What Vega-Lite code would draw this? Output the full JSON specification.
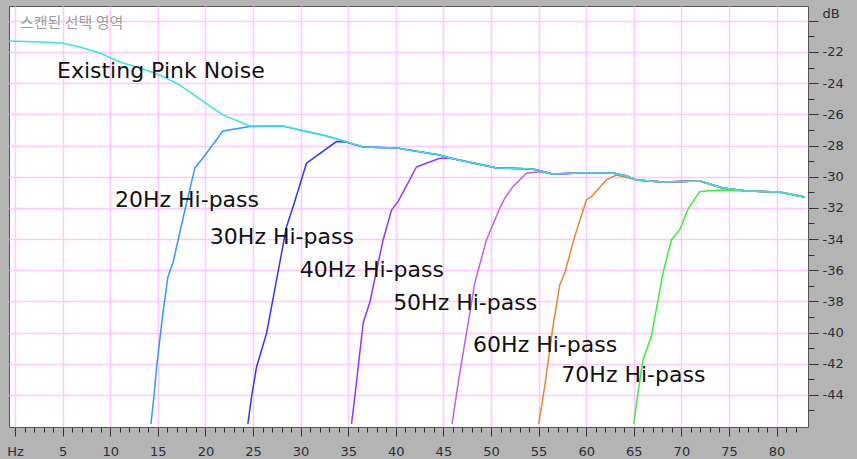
{
  "$schema": "https://vega.github.io/schema/vega-lite/v6.json",
  "width": 799,
  "height": 421,
  "autosize": {"type": "none"},
  "padding": {"left": 9, "top": 6, "right": 49, "bottom": 32},
  "background": "#b4b4b4",
  "config": {
    "view": {"fill": "white", "stroke": "#555555", "strokeWidth": 1},
    "axis": {"labelFont": "DejaVu Sans", "labelFontSize": 13, "labelColor": "#2b2f3a", "tickColor": "#333333", "domain": false, "title": null}
  },
  "title": {"text": "스캔된 선택 영역", "anchor": "start", "frame": "group", "orient": "top", "offset": -20, "dx": 11, "dy": 20, "baseline": "bottom", "font": "Noto Sans CJK KR", "fontSize": 15, "fontWeight": "normal", "color": "#a0a0a0"},
  "datasets": {
    "curves": [
      {"s": "20Hz", "f": 14.28, "db": -45.86}, {"s": "20Hz", "f": 14.59, "db": -44.13}, {"s": "20Hz", "f": 14.88, "db": -42.19}, {"s": "20Hz", "f": 15.54, "db": -38.74}, {"s": "20Hz", "f": 16.06, "db": -36.43}, {"s": "20Hz", "f": 16.59, "db": -35.53}, {"s": "20Hz", "f": 17.85, "db": -32.14}, {"s": "20Hz", "f": 18.9, "db": -29.44}, {"s": "20Hz", "f": 19.74, "db": -28.8}, {"s": "20Hz", "f": 21.84, "db": -27.07}, {"s": "20Hz", "f": 24.67, "db": -26.78},
      {"s": "20Hz", "f": 28.14, "db": -26.75}, {"s": "20Hz", "f": 29.92, "db": -27.01}, {"s": "20Hz", "f": 32.34, "db": -27.33}, {"s": "20Hz", "f": 34.86, "db": -27.77}, {"s": "20Hz", "f": 36.54, "db": -28.1}, {"s": "20Hz", "f": 40.1, "db": -28.16}, {"s": "20Hz", "f": 44.62, "db": -28.61}, {"s": "20Hz", "f": 45.67, "db": -28.8}, {"s": "20Hz", "f": 50.6, "db": -29.44}, {"s": "20Hz", "f": 54.38, "db": -29.51}, {"s": "20Hz", "f": 56.48, "db": -29.83}, {"s": "20Hz", "f": 59.32, "db": -29.76}, {"s": "20Hz", "f": 62.78, "db": -29.76}, {"s": "20Hz", "f": 64.25, "db": -29.96}, {"s": "20Hz", "f": 65.3, "db": -30.22}, {"s": "20Hz", "f": 68.03, "db": -30.34}, {"s": "20Hz", "f": 71.92, "db": -30.28}, {"s": "20Hz", "f": 74.33, "db": -30.73}, {"s": "20Hz", "f": 76.85, "db": -30.92}, {"s": "20Hz", "f": 80.31, "db": -30.99}, {"s": "20Hz", "f": 82.94, "db": -31.31},

      {"s": "30Hz", "f": 24.46, "db": -45.86}, {"s": "30Hz", "f": 24.85, "db": -44.11}, {"s": "30Hz", "f": 25.38, "db": -42.19}, {"s": "30Hz", "f": 26.43, "db": -40.04}, {"s": "30Hz", "f": 27.47, "db": -36.63}, {"s": "30Hz", "f": 28.52, "db": -33.21}, {"s": "30Hz", "f": 29.22, "db": -31.92}, {"s": "30Hz", "f": 30.62, "db": -29.14}, {"s": "30Hz", "f": 31.32, "db": -28.82}, {"s": "30Hz", "f": 33.77, "db": -27.75}, {"s": "30Hz", "f": 34.86, "db": -27.79},
      {"s": "30Hz", "f": 36.54, "db": -28.1}, {"s": "30Hz", "f": 40.1, "db": -28.16}, {"s": "30Hz", "f": 44.62, "db": -28.61}, {"s": "30Hz", "f": 45.67, "db": -28.8}, {"s": "30Hz", "f": 50.6, "db": -29.44}, {"s": "30Hz", "f": 54.38, "db": -29.51}, {"s": "30Hz", "f": 56.48, "db": -29.83}, {"s": "30Hz", "f": 59.32, "db": -29.76}, {"s": "30Hz", "f": 62.78, "db": -29.76}, {"s": "30Hz", "f": 64.25, "db": -29.96}, {"s": "30Hz", "f": 65.3, "db": -30.22}, {"s": "30Hz", "f": 68.03, "db": -30.34}, {"s": "30Hz", "f": 71.92, "db": -30.28}, {"s": "30Hz", "f": 74.33, "db": -30.73}, {"s": "30Hz", "f": 76.85, "db": -30.92}, {"s": "30Hz", "f": 80.31, "db": -30.99}, {"s": "30Hz", "f": 82.94, "db": -31.31},

      {"s": "40Hz", "f": 35.35, "db": -45.86}, {"s": "40Hz", "f": 35.7, "db": -44.11}, {"s": "40Hz", "f": 36.57, "db": -39.4}, {"s": "40Hz", "f": 37.28, "db": -38.04}, {"s": "40Hz", "f": 38.67, "db": -34.06}, {"s": "40Hz", "f": 39.55, "db": -32.14}, {"s": "40Hz", "f": 40.24, "db": -31.6}, {"s": "40Hz", "f": 42.17, "db": -29.38}, {"s": "40Hz", "f": 42.7, "db": -29.25}, {"s": "40Hz", "f": 44.62, "db": -28.82}, {"s": "40Hz", "f": 45.67, "db": -28.8},
      {"s": "40Hz", "f": 50.6, "db": -29.44}, {"s": "40Hz", "f": 54.38, "db": -29.51}, {"s": "40Hz", "f": 56.48, "db": -29.83}, {"s": "40Hz", "f": 59.32, "db": -29.76}, {"s": "40Hz", "f": 62.78, "db": -29.76}, {"s": "40Hz", "f": 64.25, "db": -29.96}, {"s": "40Hz", "f": 65.3, "db": -30.22}, {"s": "40Hz", "f": 68.03, "db": -30.34}, {"s": "40Hz", "f": 71.92, "db": -30.28}, {"s": "40Hz", "f": 74.33, "db": -30.73}, {"s": "40Hz", "f": 76.85, "db": -30.92}, {"s": "40Hz", "f": 80.31, "db": -30.99}, {"s": "40Hz", "f": 82.94, "db": -31.31},

      {"s": "50Hz", "f": 45.91, "db": -45.86}, {"s": "50Hz", "f": 46.72, "db": -42.61}, {"s": "50Hz", "f": 48.29, "db": -36.84}, {"s": "50Hz", "f": 49.52, "db": -34.06}, {"s": "50Hz", "f": 50.92, "db": -32.03}, {"s": "50Hz", "f": 51.44, "db": -31.39}, {"s": "50Hz", "f": 52.31, "db": -30.64}, {"s": "50Hz", "f": 53.72, "db": -29.78}, {"s": "50Hz", "f": 55.12, "db": -29.68},
      {"s": "50Hz", "f": 56.48, "db": -29.83}, {"s": "50Hz", "f": 59.32, "db": -29.76}, {"s": "50Hz", "f": 62.78, "db": -29.76}, {"s": "50Hz", "f": 64.25, "db": -29.96}, {"s": "50Hz", "f": 65.3, "db": -30.22}, {"s": "50Hz", "f": 68.03, "db": -30.34}, {"s": "50Hz", "f": 71.92, "db": -30.28}, {"s": "50Hz", "f": 74.33, "db": -30.73}, {"s": "50Hz", "f": 76.85, "db": -30.92}, {"s": "50Hz", "f": 80.31, "db": -30.99}, {"s": "50Hz", "f": 82.94, "db": -31.31},

      {"s": "60Hz", "f": 55.01, "db": -45.86}, {"s": "60Hz", "f": 55.64, "db": -43.47}, {"s": "60Hz", "f": 56.51, "db": -39.62}, {"s": "60Hz", "f": 57.22, "db": -36.95}, {"s": "60Hz", "f": 57.74, "db": -36.2}, {"s": "60Hz", "f": 58.79, "db": -33.85}, {"s": "60Hz", "f": 60.02, "db": -31.49}, {"s": "60Hz", "f": 60.55, "db": -31.28}, {"s": "60Hz", "f": 62.12, "db": -30.21}, {"s": "60Hz", "f": 63.17, "db": -29.89}, {"s": "60Hz", "f": 64.57, "db": -30.1},
      {"s": "60Hz", "f": 65.3, "db": -30.22}, {"s": "60Hz", "f": 68.03, "db": -30.34}, {"s": "60Hz", "f": 71.92, "db": -30.28}, {"s": "60Hz", "f": 74.33, "db": -30.73}, {"s": "60Hz", "f": 76.85, "db": -30.92}, {"s": "60Hz", "f": 80.31, "db": -30.99}, {"s": "60Hz", "f": 82.94, "db": -31.31},

      {"s": "70Hz", "f": 64.99, "db": -45.86}, {"s": "70Hz", "f": 65.44, "db": -43.89}, {"s": "70Hz", "f": 65.96, "db": -41.76}, {"s": "70Hz", "f": 66.84, "db": -40.26}, {"s": "70Hz", "f": 68.06, "db": -36.2}, {"s": "70Hz", "f": 68.94, "db": -34.06}, {"s": "70Hz", "f": 69.82, "db": -33.42}, {"s": "70Hz", "f": 70.69, "db": -32.09}, {"s": "70Hz", "f": 71.92, "db": -30.96}, {"s": "70Hz", "f": 72.97, "db": -30.9}, {"s": "70Hz", "f": 74.36, "db": -30.85},
      {"s": "70Hz", "f": 76.85, "db": -30.92}, {"s": "70Hz", "f": 80.31, "db": -30.99}, {"s": "70Hz", "f": 82.94, "db": -31.31},

      {"s": "Pink", "f": -0.63, "db": -21.3}, {"s": "Pink", "f": 2.62, "db": -21.36}, {"s": "Pink", "f": 4.93, "db": -21.42}, {"s": "Pink", "f": 6.82, "db": -21.68}, {"s": "Pink", "f": 8.92, "db": -22.07}, {"s": "Pink", "f": 11.02, "db": -22.64}, {"s": "Pink", "f": 13.12, "db": -23.03}, {"s": "Pink", "f": 15.22, "db": -23.48}, {"s": "Pink", "f": 17.32, "db": -24.12}, {"s": "Pink", "f": 19.42, "db": -25.02}, {"s": "Pink", "f": 21.84, "db": -26.04}, {"s": "Pink", "f": 24.67, "db": -26.75},
      {"s": "Pink", "f": 28.14, "db": -26.75}, {"s": "Pink", "f": 29.92, "db": -27.01}, {"s": "Pink", "f": 32.34, "db": -27.33}, {"s": "Pink", "f": 34.86, "db": -27.77}, {"s": "Pink", "f": 36.54, "db": -28.1}, {"s": "Pink", "f": 40.1, "db": -28.16}, {"s": "Pink", "f": 44.62, "db": -28.61}, {"s": "Pink", "f": 45.67, "db": -28.8}, {"s": "Pink", "f": 50.6, "db": -29.44}, {"s": "Pink", "f": 54.38, "db": -29.51}, {"s": "Pink", "f": 56.48, "db": -29.83}, {"s": "Pink", "f": 59.32, "db": -29.76}, {"s": "Pink", "f": 62.78, "db": -29.76}, {"s": "Pink", "f": 64.25, "db": -29.96}, {"s": "Pink", "f": 65.3, "db": -30.22}, {"s": "Pink", "f": 68.03, "db": -30.34}, {"s": "Pink", "f": 71.92, "db": -30.28}, {"s": "Pink", "f": 74.33, "db": -30.73}, {"s": "Pink", "f": 76.85, "db": -30.92}, {"s": "Pink", "f": 80.31, "db": -30.99}, {"s": "Pink", "f": 82.94, "db": -31.31}
    ],
    "labels": [
      {"t": "Existing Pink Noise", "f": 4.41, "db": -23.22},
      {"t": "20Hz Hi-pass", "f": 10.5, "db": -31.49},
      {"t": "30Hz Hi-pass", "f": 20.47, "db": -33.87},
      {"t": "40Hz Hi-pass", "f": 29.92, "db": -35.98},
      {"t": "50Hz Hi-pass", "f": 39.72, "db": -38.1},
      {"t": "60Hz Hi-pass", "f": 48.12, "db": -40.79},
      {"t": "70Hz Hi-pass", "f": 57.39, "db": -42.72}
    ]
  },
  "resolve": {"axis": {"x": "independent", "y": "independent"}},
  "layer": [
    {
      "data": {"name": "curves"},
      "mark": {"type": "line", "strokeWidth": 1.5, "clip": true},
      "encoding": {
        "x": {"field": "f", "type": "quantitative", "scale": {"domain": [-0.63, 83.3], "nice": false, "zero": false},
          "axis": {"orient": "bottom", "values": [0, 5, 10, 15, 20, 25, 30, 35, 40, 45, 50, 55, 60, 65, 70, 75, 80], "tickSize": 9, "labelPadding": 9, "labelExpr": "datum.value === 0 ? 'Hz' : '' + datum.value", "labelFlush": false, "labelOverlap": false, "grid": true, "gridColor": "#ffc8ff", "gridWidth": 1.5}},
        "y": {"field": "db", "type": "quantitative", "scale": {"domain": [-46.06, -19.05], "nice": false, "zero": false},
          "axis": {"orient": "right", "values": [-44, -42, -40, -38, -36, -34, -32, -30, -28, -26, -24, -22, -20], "tickSize": 10, "labelPadding": 4, "labelExpr": "datum.value === -20 ? 'dB' : '' + datum.value", "labelBaseline": {"condition": {"test": "datum.value === -20", "value": "bottom"}, "value": "middle"}, "labelFlush": false, "labelOverlap": false, "grid": true, "gridColor": "#ffc8ff", "gridWidth": 1.5}},
        "color": {"field": "s", "type": "nominal", "sort": ["20Hz", "30Hz", "40Hz", "50Hz", "60Hz", "70Hz", "Pink"], "legend": null,
          "scale": {"domain": ["20Hz", "30Hz", "40Hz", "50Hz", "60Hz", "70Hz", "Pink"], "range": ["#3399ff", "#3333ff", "#9933ff", "#c45ee0", "#e8862e", "#3cee3c", "#33e5e5"]}}
      }
    },
    {
      "data": {"name": "labels"},
      "mark": {"type": "text", "align": "left", "baseline": "middle", "font": "DejaVu Sans", "fontSize": 22, "color": "#111111"},
      "encoding": {
        "x": {"field": "f", "type": "quantitative", "scale": {"domain": [-0.63, 83.3], "nice": false, "zero": false},
          "axis": {"orient": "bottom", "values": [0, 1, 2, 3, 4, 5, 6, 7, 8, 9, 10, 11, 12, 13, 14, 15, 16, 17, 18, 19, 20, 21, 22, 23, 24, 25, 26, 27, 28, 29, 30, 31, 32, 33, 34, 35, 36, 37, 38, 39, 40, 41, 42, 43, 44, 45, 46, 47, 48, 49, 50, 51, 52, 53, 54, 55, 56, 57, 58, 59, 60, 61, 62, 63, 64, 65, 66, 67, 68, 69, 70, 71, 72, 73, 74, 75, 76, 77, 78, 79, 80, 81, 82], "tickSize": 5, "labels": false, "grid": false}},
        "y": {"field": "db", "type": "quantitative", "scale": {"domain": [-46.06, -19.05], "nice": false, "zero": false},
          "axis": {"orient": "right", "values": [-45, -43, -41, -39, -37, -35, -33, -31, -29, -27, -25, -23, -21], "tickSize": 6, "labels": false, "grid": false}},
        "text": {"field": "t"}
      }
    }
  ]
}
